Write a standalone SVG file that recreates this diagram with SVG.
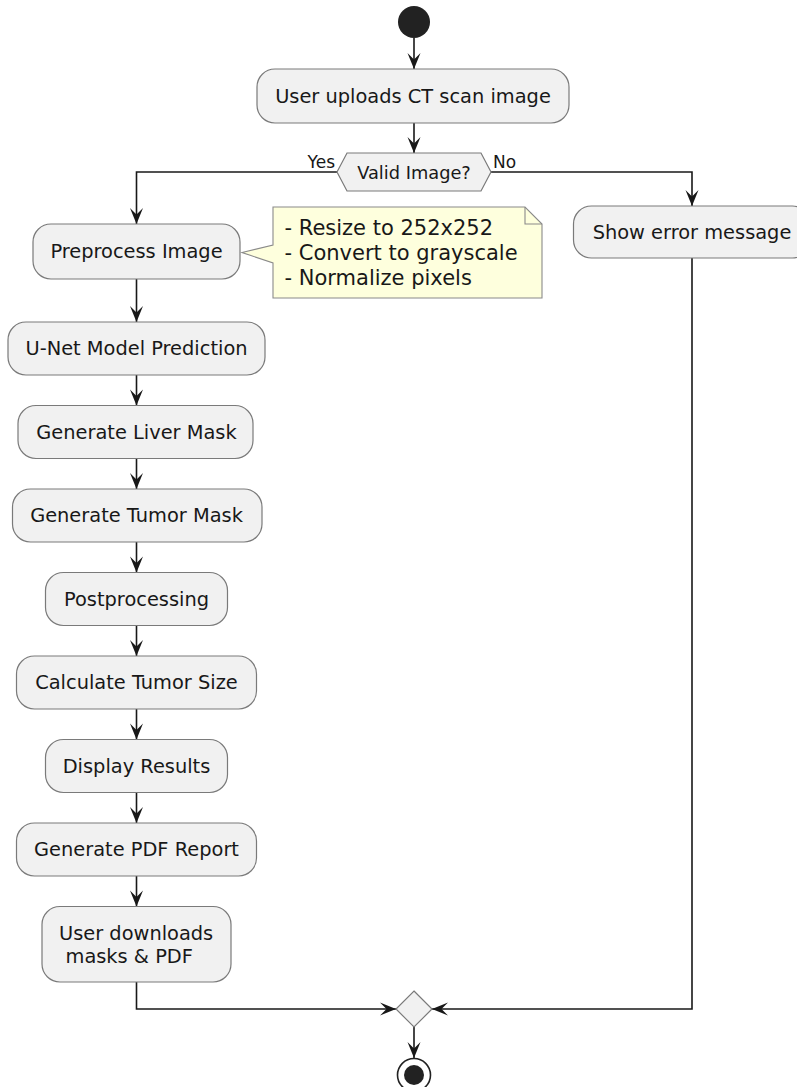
<svg xmlns="http://www.w3.org/2000/svg" width="797" height="1087" viewBox="0 0 797 1087">
<defs>
<marker id="arr" viewBox="-17 -8 18 16" markerWidth="18" markerHeight="16" refX="0" refY="0" orient="auto" markerUnits="userSpaceOnUse">
<path d="M0,0 L-16,-6.5 L-9.5,0 L-16,6.5 Z" fill="#181818"/>
</marker>
</defs>
<style>
.box{fill:#F1F1F1;stroke:#7a7a7a;stroke-width:1.2}
.t{font-family:"DejaVu Sans",sans-serif;font-size:19.4px;fill:#181818}
.c{text-anchor:middle}
.ln{fill:none;stroke:#181818;stroke-width:1.6}
.lbl{font-family:"DejaVu Sans",sans-serif;font-size:17px;fill:#181818}
.note{font-family:"DejaVu Sans",sans-serif;font-size:21px;fill:#181818}
</style>
<rect width="797" height="1087" fill="#ffffff"/>
<g id="connectors">
<path class="ln" d="M414,38 L414,69" marker-end="url(#arr)"/>
<path class="ln" d="M414,123 L414,153" marker-end="url(#arr)"/>
<path class="ln" d="M337,172 L136.5,172 L136.5,224" marker-end="url(#arr)"/>
<path class="ln" d="M491,172 L692,172 L692,206" marker-end="url(#arr)"/>
<path class="ln" d="M136.5,279 L136.5,322" marker-end="url(#arr)"/>
<path class="ln" d="M136.5,375 L136.5,405.5" marker-end="url(#arr)"/>
<path class="ln" d="M136.5,458.5 L136.5,489" marker-end="url(#arr)"/>
<path class="ln" d="M136.5,542 L136.5,572.5" marker-end="url(#arr)"/>
<path class="ln" d="M136.5,625.5 L136.5,656" marker-end="url(#arr)"/>
<path class="ln" d="M136.5,709 L136.5,739.5" marker-end="url(#arr)"/>
<path class="ln" d="M136.5,792.5 L136.5,823" marker-end="url(#arr)"/>
<path class="ln" d="M136.5,876 L136.5,906.5" marker-end="url(#arr)"/>
<path class="ln" d="M136.5,982 L136.5,1009 L396,1009" marker-end="url(#arr)"/>
<path class="ln" d="M692,258 L692,1009 L432,1009" marker-end="url(#arr)"/>
<path class="ln" d="M414,1027 L414,1058" marker-end="url(#arr)"/>
<text class="lbl" x="335" y="168" text-anchor="end">Yes</text>
<text class="lbl" x="493" y="168">No</text>
</g>
<g id="start">
<circle cx="414" cy="22" r="16" fill="#222222"/>
</g>
<g id="upload">
<rect class="box" x="257" y="69" width="312" height="54" rx="18"/>
<text class="t c" x="413" y="102.7">User uploads CT scan image</text>
</g>
<g id="valid">
<polygon class="box" points="337,172 347,153 481,153 491,172 481,191 347,191"/>
<text class="c" x="414" y="179" font-family="DejaVu Sans, sans-serif" font-size="17.8px" fill="#181818">Valid Image?</text>
</g>
<g id="preprocess">
<rect class="box" x="33" y="224" width="207" height="55" rx="18"/>
<text class="t c" x="136.5" y="258">Preprocess Image</text>
</g>
<g id="note">
<path d="M273,207 L525,207 L542,224 L542,298 L273,298 L273,263 L242,252.5 L273,245 Z" fill="#FEFFDD" stroke="#8a8a8a" stroke-width="1.1"/>
<path d="M525,207 L525,224 L542,224" fill="none" stroke="#8a8a8a" stroke-width="1.1"/>
<text class="note" x="284.5" y="234.5">- Resize to 252x252</text>
<text class="note" x="284.5" y="259.5">- Convert to grayscale</text>
<text class="note" x="284.5" y="284.5">- Normalize pixels</text>
</g>
<g id="error">
<rect class="box" x="573.5" y="206" width="237" height="52" rx="18"/>
<text class="t c" x="692" y="238.7">Show error message</text>
</g>
<g id="unet">
<rect class="box" x="8" y="322" width="257" height="53" rx="18"/>
<text class="t c" x="136.5" y="355">U-Net Model Prediction</text>
</g>
<g id="liver">
<rect class="box" x="18" y="405.5" width="235" height="53" rx="18"/>
<text class="t c" x="136.5" y="438.5">Generate Liver Mask</text>
</g>
<g id="tumor">
<rect class="box" x="12.5" y="489" width="249.5" height="53" rx="18"/>
<text class="t c" x="136.5" y="522">Generate Tumor Mask</text>
</g>
<g id="post">
<rect class="box" x="45.5" y="572.5" width="182" height="53" rx="18"/>
<text class="t c" x="136.5" y="605.5">Postprocessing</text>
</g>
<g id="size">
<rect class="box" x="16.5" y="656" width="240" height="53" rx="18"/>
<text class="t c" x="136.5" y="689">Calculate Tumor Size</text>
</g>
<g id="display">
<rect class="box" x="45.5" y="739.5" width="182" height="53" rx="18"/>
<text class="t c" x="136.5" y="772.5">Display Results</text>
</g>
<g id="pdf">
<rect class="box" x="16.5" y="823" width="240" height="53" rx="18"/>
<text class="t c" x="136.5" y="856">Generate PDF Report</text>
</g>
<g id="download">
<rect class="box" x="42" y="906.5" width="189" height="75.5" rx="18"/>
<text class="t" x="59" y="940">User downloads</text>
<text class="t" x="65.5" y="962.5">masks &amp; PDF</text>
</g>
<g id="merge">
<polygon class="box" points="414,991 432,1009 414,1027 396,1009"/>
</g>
<g id="end">
<circle cx="414" cy="1075" r="16.5" fill="none" stroke="#222222" stroke-width="1.6"/>
<circle cx="414" cy="1075" r="10" fill="#222222"/>
</g>
</svg>
